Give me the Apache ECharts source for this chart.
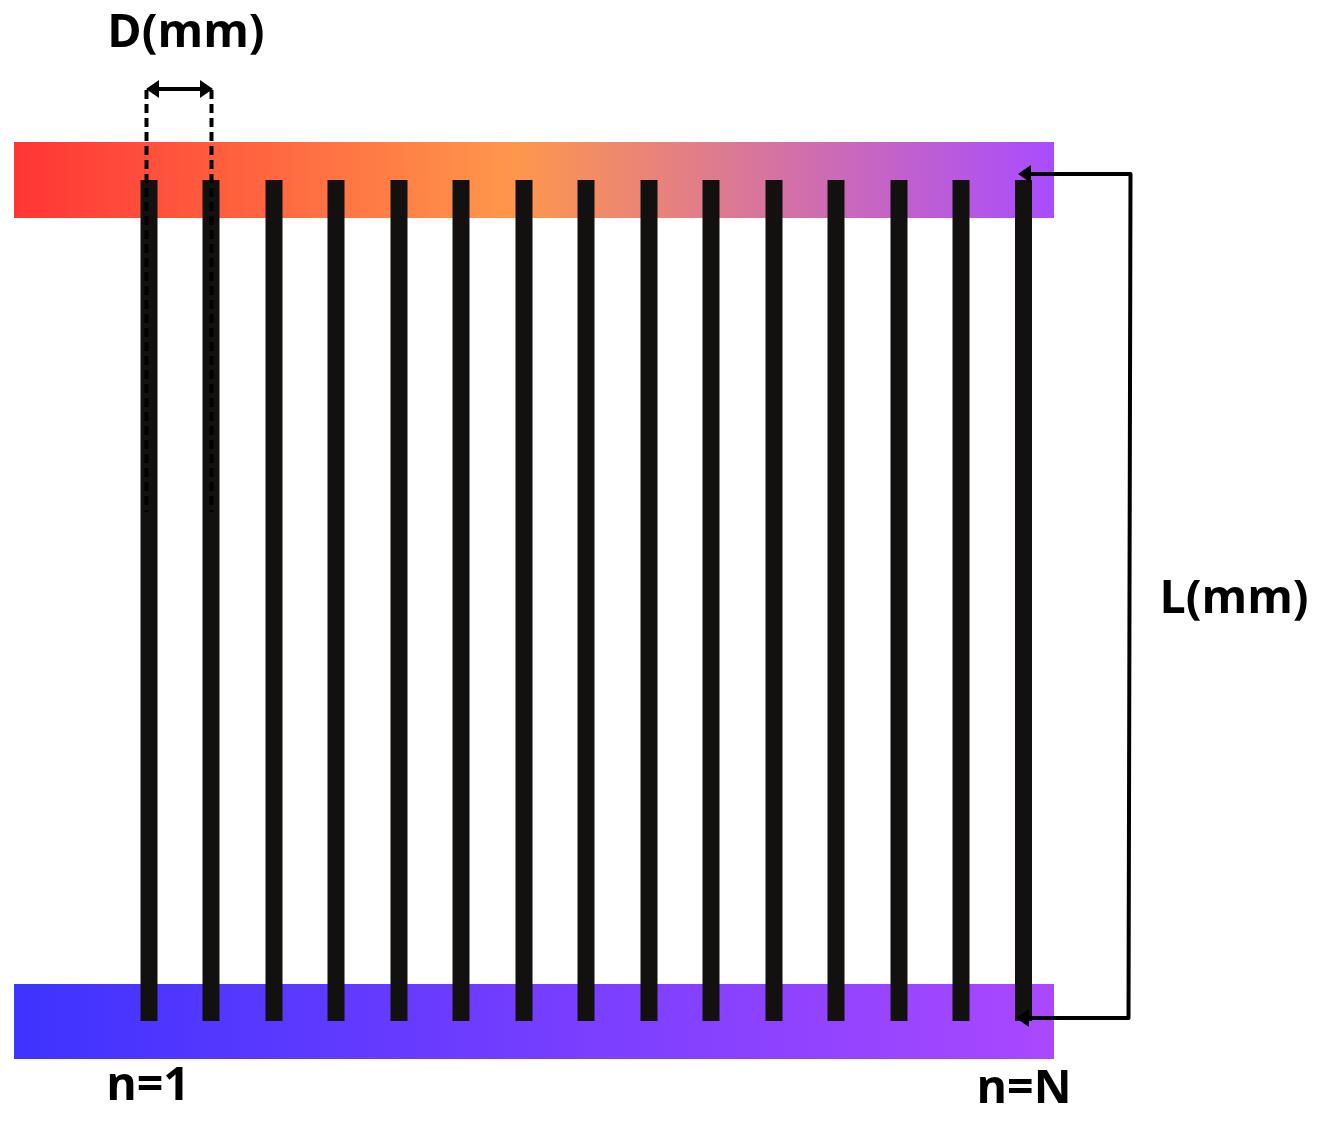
<!DOCTYPE html>
<html>
<head>
<meta charset="utf-8">
<title>D(mm)</title>
<style>
html,body{margin:0;padding:0;background:#fff}
#main{width:1320px;height:1124px}
</style>
<script src="https://cdn.jsdelivr.net/npm/echarts@6/dist/echarts.min.js"></script>
</head>
<body>
<div id="main"></div>
<script>
// tube centres
var tubeX = [149, 211, 274, 336, 399, 461, 524, 586, 649, 711, 774, 836, 899, 961, 1023.5];
var tubeY = [180, 1021];
// manifolds [x0, y0, x1, y1]
var topBar = [14, 142, 1054, 218];
var bottomBar = [14, 984, 1054, 1059];
var topColors = ['#ff3535', '#ff974b', '#a94cff'];
var bottomColors = ['#3e33ff', '#aa48ff'];
// dashed guides and dimension lines
var dashLeft = [[146.5, 90], [146.5, 512]];
var dashRight = [[211.5, 90], [211.5, 512]];
var spanD = [[150, 89], [208, 89]];
var spanL = [[1024, 174], [1130.5, 174], [1128.5, 1018], [1024, 1018]];
// arrow heads [tipX, tipY, dir]
var heads = [[146, 89, 1], [213, 89, -1], [1018, 174, 1], [1016, 1018, 1]];
var labels = [
    ['D(mm)', 186, 34],
    ['L(mm)', 1234, 600],
    ['n=1', 148, 1087],
    ['n=N', 1024, 1090]
];

var chart = echarts.init(document.getElementById('main'));

function rectItem(params, api, colors) {
    var a = api.coord([api.value(0), api.value(1)]);
    var b = api.coord([api.value(2), api.value(3)]);
    var stops = colors.length == 3
        ? [{offset: 0, color: colors[0]}, {offset: 0.48, color: colors[1]}, {offset: 1, color: colors[2]}]
        : [{offset: 0, color: colors[0]}, {offset: 1, color: colors[1]}];
    return {
        type: 'rect',
        shape: {x: a[0], y: a[1], width: b[0] - a[0], height: b[1] - a[1]},
        style: {fill: new echarts.graphic.LinearGradient(0, 0, 1, 0, stops)}
    };
}

function pathLine(data, dashed, width) {
    return {
        type: 'line',
        data: data,
        symbol: 'none',
        silent: true,
        z: 5,
        lineStyle: {
            color: '#000',
            width: width,
            type: dashed ? [9, 5] : 'solid',
            join: 'round'
        }
    };
}

var option = {
    animation: false,
    backgroundColor: '#fff',
    grid: {left: 0, right: 0, top: 0, bottom: 0},
    xAxis: {type: 'value', min: 0, max: 1320, show: false},
    yAxis: {type: 'value', min: 0, max: 1124, inverse: true, show: false},
    series: [
        {
            type: 'custom',
            silent: true,
            z: 1,
            data: [topBar],
            encode: {x: [0, 2], y: [1, 3]},
            renderItem: function (params, api) { return rectItem(params, api, topColors); }
        },
        {
            type: 'custom',
            silent: true,
            z: 1,
            data: [bottomBar],
            encode: {x: [0, 2], y: [1, 3]},
            renderItem: function (params, api) { return rectItem(params, api, bottomColors); }
        },
        {
            // tubes
            type: 'custom',
            silent: true,
            z: 2,
            data: tubeX.map(function (x) { return [x, tubeY[0], tubeY[1]]; }),
            encode: {x: 0, y: [1, 2]},
            renderItem: function (params, api) {
                var a = api.coord([api.value(0), api.value(1)]);
                var b = api.coord([api.value(0), api.value(2)]);
                return {
                    type: 'rect',
                    shape: {x: a[0] - 8.5, y: a[1], width: 17, height: b[1] - a[1]},
                    style: {fill: '#12110f'}
                };
            }
        },
        pathLine(dashLeft, true, 4),
        pathLine(dashRight, true, 4),
        pathLine(spanD, false, 4),
        pathLine(spanL, false, 4),
        {
            // arrow heads
            type: 'custom',
            silent: true,
            z: 6,
            data: heads,
            encode: {x: 0, y: 1},
            renderItem: function (params, api) {
                var p = api.coord([api.value(0), api.value(1)]);
                var d = api.value(2);
                return {
                    type: 'polygon',
                    shape: {points: [[p[0], p[1]], [p[0] + d * 13, p[1] - 9], [p[0] + d * 13, p[1] + 9]]},
                    style: {fill: '#000'}
                };
            }
        },
        {
            // text
            type: 'custom',
            silent: true,
            z: 7,
            data: labels.map(function (l) { return [l[1], l[2]]; }),
            encode: {x: 0, y: 1},
            renderItem: function (params, api) {
                var l = labels[params.dataIndex];
                var p = api.coord([api.value(0), api.value(1)]);
                return {
                    type: 'text',
                    style: {
                        text: l[0],
                        x: p[0],
                        y: p[1],
                        align: 'center',
                        verticalAlign: 'middle',
                        fill: '#000',
                        font: 'bold 46.5px "Open Sans", "Noto Sans", sans-serif'
                    }
                };
            }
        }
    ]
};

chart.setOption(option);
</script>
</body>
</html>
